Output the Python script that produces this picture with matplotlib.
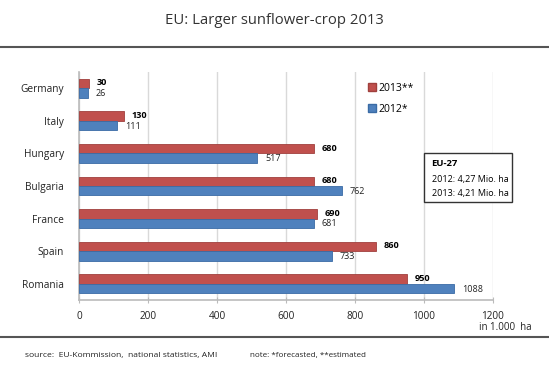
import matplotlib
matplotlib.use("Agg")
import matplotlib.pyplot as plt
from matplotlib.lines import Line2D
from matplotlib.patches import Patch, Rectangle

countries = ["Germany", "Italy", "Hungary", "Bulgaria", "France", "Spain", "Romania"]
v2013 = [30, 130, 680, 680, 690, 860, 950]
v2012 = [26, 111, 517, 762, 681, 733, 1088]
xticks = [0, 200, 400, 600, 800, 1000, 1200]

plt.rcParams['font.family'] = ['Open Sans', 'DejaVu Sans']
red = '#C0504D'
blue = '#4F81BD'

fig = plt.figure(figsize=(5.49, 3.75), dpi=100)
ax = fig.add_axes([0.144, 0.2, 0.754, 0.608])

ys = list(range(len(countries)))
h = 0.29
ax.barh([y - h / 2 for y in ys], v2013, height=h, color=red, edgecolor='#A0403D', linewidth=0.6, label='2013**', zorder=3)
ax.barh([y + h / 2 for y in ys], v2012, height=h, color=blue, edgecolor='#3A6BA5', linewidth=0.6, label='2012*', zorder=3)

for y, a, b in zip(ys, v2013, v2012):
    ax.text(a + 22, y - h / 2 - 0.02, str(a), fontsize=6.6, fontweight='bold', va='center', ha='left', color='black')
    ax.text(b + 22, y + h / 2 + 0.02, str(b), fontsize=6.5, va='center', ha='left', color='#222222')

ax.set_ylim(6.5, -0.5)
ax.set_xlim(0, 1200)
ax.set_xticks(xticks)
ax.set_xticklabels([str(t) for t in xticks], fontsize=7.2, color='#222222')
ax.set_yticks(ys)
ax.set_yticklabels(countries, fontsize=7.3, color='#222222')
ax.tick_params(axis='y', length=0, pad=11)
ax.tick_params(axis='x', length=4, color='#bbbbbb', pad=6, direction='inout')
ax.grid(axis='x', color='#d9d9d9', linewidth=1, zorder=0)
for s in ['top', 'right']:
    ax.spines[s].set_visible(False)
ax.spines['left'].set_color('#bbbbbb')
ax.spines['bottom'].set_color('#bbbbbb')
ax.spines['left'].set_linewidth(1.2)
ax.spines['bottom'].set_linewidth(1.2)

leg = ax.legend(handles=[Patch(facecolor=red, edgecolor='#A0403D'), Patch(facecolor=blue, edgecolor='#3A6BA5')],
                labels=['2013**', '2012*'], loc='upper left', bbox_to_anchor=(0.675, 0.995),
                frameon=False, fontsize=7.5, handlelength=0.8, handleheight=0.8, handletextpad=0.2,
                labelspacing=1.0)

fig.text(0.5, 0.945, "EU: Larger sunflower-crop 2013", ha='center', va='center', fontsize=10.7, color='#333333')
fig.add_artist(Line2D([0, 1], [0.875, 0.875], transform=fig.transFigure, color='#555555', linewidth=1.5))
fig.add_artist(Line2D([0, 1], [0.101, 0.101], transform=fig.transFigure, color='#555555', linewidth=1.5))

fig.text(0.872, 0.128, "in 1.000  ha", ha='left', va='center', fontsize=7, color='#222222')
fig.text(0.046, 0.053, "source:  EU-Kommission,  national statistics, AMI", ha='left', va='center', fontsize=6.1, color='#222222')
fig.text(0.455, 0.053, "note: *forecasted, **estimated", ha='left', va='center', fontsize=5.8, color='#222222')

# EU-27 box
fig.add_artist(Rectangle((0.773, 1 - 202 / 375), (512 - 424) / 549, (202 - 153) / 375,
                         transform=fig.transFigure, facecolor='white', edgecolor='#333333', linewidth=1.0, zorder=5))
fig.text(0.786, 1 - 164 / 375, "EU-27", fontsize=6.8, fontweight='bold', va='center', ha='left', zorder=6)
fig.text(0.786, 1 - 179 / 375, "2012: 4,27 Mio. ha", fontsize=6.5, va='center', ha='left', zorder=6)
fig.text(0.786, 1 - 193 / 375, "2013: 4,21 Mio. ha", fontsize=6.5, va='center', ha='left', zorder=6)

fig.savefig("out.png", dpi=100)
